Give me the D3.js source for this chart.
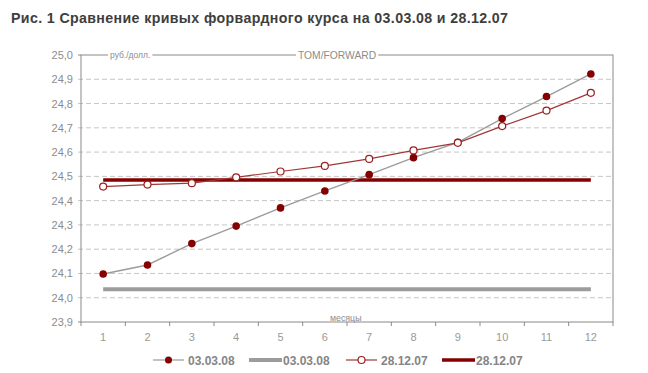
<!DOCTYPE html>
<html>
<head>
<meta charset="utf-8">
<script src="https://cdn.jsdelivr.net/npm/d3@7"></script>
<style>
  body { margin: 0; background: #fff; }
  svg { font-family: "Liberation Sans", Arial, sans-serif; }
</style>
</head>
<body>
<div id="chart"></div>
<script>
// ------------------------------------------
//  Data
// ------------------------------------------
const months = [1, 2, 3, 4, 5, 6, 7, 8, 9, 10, 11, 12]
const curve0303 = [24.098, 24.135, 24.223, 24.295, 24.370, 24.440, 24.507, 24.577, 24.640, 24.738, 24.829, 24.922]
const curve2812 = [24.458, 24.466, 24.472, 24.496, 24.520, 24.543, 24.572, 24.607, 24.638, 24.707, 24.771, 24.844]
const tom0303 = 24.035
const tom2812 = 24.485
const yTicks = [23.9, 24.0, 24.1, 24.2, 24.3, 24.4, 24.5, 24.6, 24.7, 24.8, 24.9, 25.0]
const legendLabels = ["03.03.08", "03.03.08", "28.12.07", "28.12.07"]

const red = "#850000"
const gray = "#9c9c9c"
const axisColor = "#8a8a8a"

// ------------------------------------------
//  Chart
// ------------------------------------------
const W = 648, H = 373
const svg = d3.select("#chart").append("svg").attr("width", W).attr("height", H)

svg.append("text")
    .attr("x", 11).attr("y", 23)
    .attr("font-size", 14.2).attr("font-weight", "bold").attr("fill", "#3e3e3e")
    .attr("textLength", 497).attr("lengthAdjust", "spacing")
    .text("Рис. 1 Сравнение кривых форвардного курса на 03.03.08 и 28.12.07")

const pLeft = 81, pRight = 613, pTop = 55, pBottom = 322

const x = d3.scaleBand().domain(months).range([pLeft, pRight])
const cx = d => x(d) + x.bandwidth() / 2
const y = d3.scaleLinear().domain([23.9, 25.0]).range([pBottom, pTop])
const fmt = d3.formatLocale({ decimal: ",", thousands: " ", grouping: [3], currency: ["", ""] }).format(".1f")

// grid
svg.append("g").selectAll("line")
    .data(yTicks.slice(1, -1))
    .enter().append("line")
    .attr("x1", pLeft - 3).attr("x2", pRight)
    .attr("y1", d => y(d)).attr("y2", d => y(d))
    .attr("stroke", "#c6c6c6").attr("stroke-dasharray", "5,3")

// frame
svg.append("rect")
    .attr("x", pLeft).attr("y", pTop).attr("width", pRight - pLeft).attr("height", pBottom - pTop)
    .attr("fill", "none").attr("stroke", axisColor)
svg.append("line").attr("x1", pLeft - 3).attr("x2", pLeft).attr("y1", pTop).attr("y2", pTop).attr("stroke", axisColor)
svg.append("line").attr("x1", pLeft - 3).attr("x2", pLeft).attr("y1", pBottom).attr("y2", pBottom).attr("stroke", axisColor)

// y labels
svg.append("g").selectAll("text")
    .data(yTicks)
    .enter().append("text")
    .attr("x", 73).attr("y", d => y(d) + 4)
    .attr("text-anchor", "end").attr("font-size", 11).attr("fill", "#8c8c8c")
    .text(d => fmt(d))

// x ticks & labels
svg.append("g").selectAll("line")
    .data(months.map(m => x(m)).concat([pRight]))
    .enter().append("line")
    .attr("x1", d => d).attr("x2", d => d)
    .attr("y1", pBottom).attr("y2", pBottom + 4)
    .attr("stroke", axisColor)

svg.append("g").selectAll("text")
    .data(months)
    .enter().append("text")
    .attr("x", d => cx(d)).attr("y", 341)
    .attr("text-anchor", "middle").attr("font-size", 11).attr("fill", "#999")
    .text(d => d)

// labels sitting on the frame
function frameLabel(text, x0, yy, size) {
    const t = svg.append("text").attr("x", x0).attr("y", yy + size * 0.35)
        .attr("font-size", size).attr("fill", "#8c8c8c").text(text)
    const w = t.node().getComputedTextLength()
    svg.insert("rect", () => t.node())
        .attr("x", x0 - 2).attr("y", yy - 3).attr("width", w + 4).attr("height", 6).attr("fill", "#fff")
}
frameLabel("руб./долл.", 110, pTop, 8.5)
frameLabel("TOM/FORWARD", 298, pTop, 10.3)
frameLabel("месяцы", 330, pBottom - 4, 8.8)

// TOM levels
svg.append("line")
    .attr("x1", cx(1)).attr("x2", cx(12)).attr("y1", y(tom0303)).attr("y2", y(tom0303))
    .attr("stroke", gray).attr("stroke-width", 4)
svg.append("line")
    .attr("x1", cx(1)).attr("x2", cx(12)).attr("y1", y(tom2812)).attr("y2", y(tom2812))
    .attr("stroke", red).attr("stroke-width", 3.5)

// curves
const line = d3.line().x((d, i) => cx(months[i])).y(d => y(d))

svg.append("path").datum(curve0303).attr("d", line)
    .attr("fill", "none").attr("stroke", gray).attr("stroke-width", 1.4)
svg.append("path").datum(curve2812).attr("d", line)
    .attr("fill", "none").attr("stroke", "#a03838").attr("stroke-width", 1.2)

svg.append("g").selectAll("circle")
    .data(curve0303)
    .enter().append("circle")
    .attr("cx", (d, i) => cx(months[i])).attr("cy", d => y(d)).attr("r", 3.8)
    .attr("fill", red)

svg.append("g").selectAll("circle")
    .data(curve2812)
    .enter().append("circle")
    .attr("cx", (d, i) => cx(months[i])).attr("cy", d => y(d)).attr("r", 3.5)
    .attr("fill", "#fff").attr("stroke", "#9a2020").attr("stroke-width", 1.2)

// ------------------------------------------
//  Legend
// ------------------------------------------
const legendY = 360
const legendX = [153, 249, 346, 442]
const legend = svg.append("g")
legendX.forEach((lx, i) => {
    if (i === 0 || i === 2) {
        legend.append("line").attr("x1", lx).attr("x2", lx + 31).attr("y1", legendY).attr("y2", legendY)
            .attr("stroke", i === 0 ? gray : "#a03838").attr("stroke-width", 1.2)
        legend.append("circle").attr("cx", lx + 15.5).attr("cy", legendY).attr("r", 3.5)
            .attr("fill", i === 0 ? red : "#fff").attr("stroke", i === 0 ? "none" : "#9a2020").attr("stroke-width", 1.2)
    } else {
        legend.append("line").attr("x1", lx).attr("x2", lx + 33).attr("y1", legendY).attr("y2", legendY)
            .attr("stroke", i === 1 ? gray : red).attr("stroke-width", i === 1 ? 4 : 3.5)
    }
    legend.append("text")
        .attr("x", lx + (i % 2 === 0 ? 35 : 34)).attr("y", legendY + 4.5)
        .attr("font-size", 12).attr("font-weight", "bold").attr("fill", "#858585")
        .text(legendLabels[i])
})
</script>
</body>
</html>
